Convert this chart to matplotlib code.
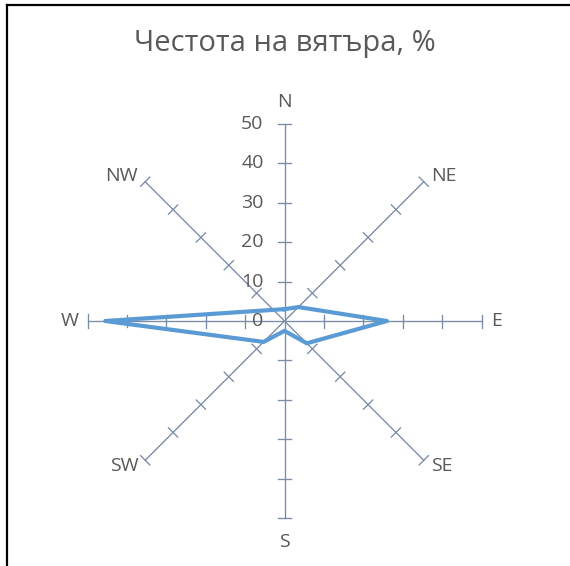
import numpy as np
import matplotlib
matplotlib.use("Agg")
import matplotlib.pyplot as plt
from matplotlib.lines import Line2D

plt.rcParams['font.family'] = ['Open Sans', 'DejaVu Sans']

# данни
directions = ['N', 'NE', 'E', 'SE', 'S', 'SW', 'W', 'NW']
frequency = [3, 5, 26, 8, 2.5, 7.5, 45.5, 4]
r_ticks = [0, 10, 20, 30, 40, 50]
title = 'Честота на вятъра, %'

text_col = '#595959'
axis_col = '#7A8BA6'
line_col = '#5B9BD5'

W, H = 570, 566
fig = plt.figure(figsize=(W / 100, H / 100), dpi=100)

# полярна ос: център (284.5, 321) px, радиус 197 px
cx, cy, R = 284.5, 321, 197
ax = fig.add_axes([(cx - R) / W, (H - cy - R) / H, 2 * R / W, 2 * R / H],
                  projection='polar')
ax.set_theta_zero_location('N')
ax.set_theta_direction(-1)
ax.set_ylim(0, 50)
ax.grid(False)
ax.set_xticks([])
ax.set_yticks([])
ax.spines['polar'].set_visible(False)
ax.patch.set_alpha(0)

angles = np.deg2rad(np.arange(len(directions)) * 45)

# лъчи и деления (напречни чертички по 6.5 px на всяка страна)
h = 6.5 / R * 50
for th in angles:
    ax.plot([th, th], [0, 50], color=axis_col, lw=0.95, zorder=1, clip_on=False)
    for r in r_ticks[1:]:
        da = np.arctan2(h, r)
        rr = np.hypot(r, h)
        ax.plot([th - da, th + da], [rr, rr], color=axis_col, lw=0.95, zorder=1,
                clip_on=False)

# етикети на посоките
offs = {'N': (0, 22, 'center', 'center'), 'NE': (7, 6, 'left', 'center'),
        'E': (10, 0, 'left', 'center'), 'SE': (7, -6, 'left', 'center'),
        'S': (0, -24, 'center', 'center'), 'SW': (-7, -6, 'right', 'center'),
        'W': (-9, 0, 'right', 'center'), 'NW': (-7, 6, 'right', 'center')}
for name, th in zip(directions, angles):
    dx, dy, ha, va = offs[name]
    ax.annotate(name, (th, 50), xytext=(dx, dy), textcoords='offset pixels',
                ha=ha, va=va, fontsize=14, color=text_col)

# стойности по оста N
for r in r_ticks:
    ax.annotate(str(r), (0, r), xytext=(-21, 0), textcoords='offset pixels',
                ha='right', va='center', fontsize=14, color=text_col)

# данни
th_c = np.append(angles, angles[0])
v_c = frequency + frequency[:1]
ax.plot(th_c, v_c, color=line_col, lw=3.0, solid_joinstyle='round', zorder=3)

fig.text(0.5, 1 - 43 / H, title, ha='center', va='center', fontsize=21,
         color=text_col)

# рамка
fig.add_artist(Line2D([7 / W, 7 / W], [0, 1 - 5 / H], color='black', lw=1.6,
                      transform=fig.transFigure))
fig.add_artist(Line2D([7 / W, 1], [1 - 5 / H, 1 - 5 / H], color='black', lw=1.6,
                      transform=fig.transFigure))

fig.savefig('out.png', dpi=100, facecolor='white')
